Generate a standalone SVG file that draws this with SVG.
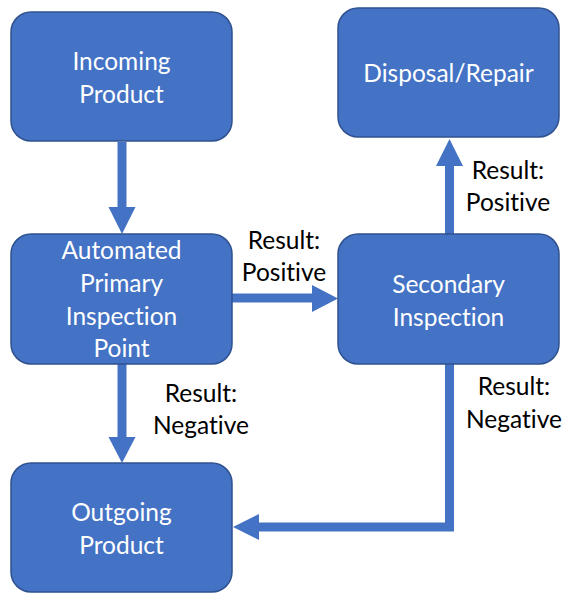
<svg xmlns="http://www.w3.org/2000/svg" width="567" height="606" viewBox="0 0 567 606">
<style>
.box{fill:#4472C4;stroke:#2F528F;stroke-width:1.5}
.wt{fill:#FFFFFF;font-family:Lato,"Open Sans",sans-serif;font-size:24.5px;text-anchor:middle;font-variant-ligatures:none}
.bt{fill:#000000;font-family:Lato,"Open Sans",sans-serif;font-size:24.5px;text-anchor:middle;font-variant-ligatures:none}
.ln{fill:none;stroke:#4472C4;stroke-width:9}
.hd{fill:#4472C4}
</style>
<rect width="567" height="606" fill="#FFFFFF"/>
<g id="connectors">
<line class="ln" x1="122" y1="142" x2="122" y2="209"/>
<polygon class="hd" points="108.5,207 135.5,207 122,234"/>
<line class="ln" x1="232" y1="298" x2="314" y2="298"/>
<polygon class="hd" points="312,285 312,312 338,298.5"/>
<line class="ln" x1="449.5" y1="234" x2="449.5" y2="164"/>
<polygon class="hd" points="436,166 463,166 449.5,139"/>
<line class="ln" x1="122" y1="364" x2="122" y2="439"/>
<polygon class="hd" points="108.5,437 135.5,437 122,463"/>
<polyline class="ln" points="449.5,364 449.5,527 256,527"/>
<polygon class="hd" points="259,514 259,540 233,527"/>
</g>
<g id="incoming">
<rect class="box" x="11" y="12" width="221" height="129" rx="20"/>
<text class="wt" x="121.5" y="70">Incoming</text>
<text class="wt" x="121.5" y="103">Product</text>
</g>
<g id="primary">
<rect class="box" x="11" y="234" width="221" height="130" rx="20"/>
<text class="wt" x="121.5" y="259">Automated</text>
<text class="wt" x="121.5" y="292">Primary</text>
<text class="wt" x="121.5" y="325">Inspection</text>
<text class="wt" x="121.5" y="357">Point</text>
</g>
<g id="outgoing">
<rect class="box" x="11" y="463" width="221" height="129" rx="20"/>
<text class="wt" x="121.5" y="521">Outgoing</text>
<text class="wt" x="121.5" y="554">Product</text>
</g>
<g id="secondary">
<rect class="box" x="338" y="234" width="221" height="130" rx="20"/>
<text class="wt" x="448.5" y="293">Secondary</text>
<text class="wt" x="448.5" y="326">Inspection</text>
</g>
<g id="disposal">
<rect class="box" x="338" y="8" width="221" height="129" rx="20"/>
<text class="wt" x="448.5" y="82">Disposal/Repair</text>
</g>
<g id="labels">
<text class="bt" x="284" y="249">Result:</text>
<text class="bt" x="284" y="281">Positive</text>
<text class="bt" x="508" y="179">Result:</text>
<text class="bt" x="508" y="211">Positive</text>
<text class="bt" x="201" y="402">Result:</text>
<text class="bt" x="201" y="434">Negative</text>
<text class="bt" x="514" y="395">Result:</text>
<text class="bt" x="514" y="428">Negative</text>
</g>
</svg>
